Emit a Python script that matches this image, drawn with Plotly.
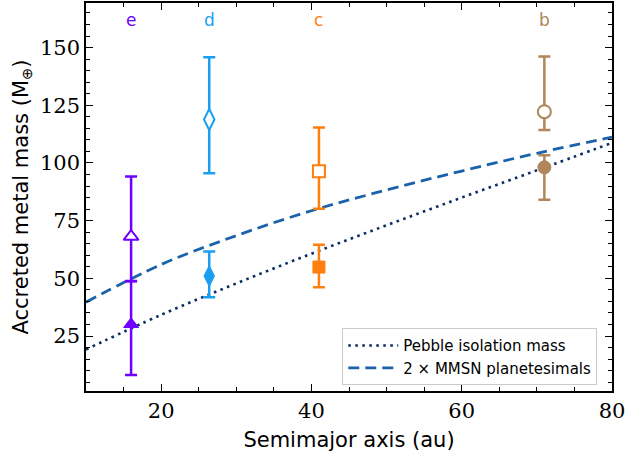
import plotly.graph_objects as go

# Planets
planet_labels = ["e", "d", "c", "b"]
planet_a = [16.0, 26.4, 41.0, 71.0]
planet_colors = ["#6f00ff", "#1a9ff0", "#ff7f0e", "#b0865a"]
planet_symbols = ["triangle-up", "diamond-tall", "square", "circle"]
marker_sizes = [13, 15, 12, 13]

# filled markers (lower estimates)
filled_mass = [30.1, 51.0, 54.9, 98.1]
filled_err_plus = [18.8, 10.6, 9.7, 5.2]
filled_err_minus = [22.0, 9.2, 8.7, 14.0]

# open markers (upper estimates)
open_mass = [68.1, 118.8, 96.4, 122.2]
open_err_plus = [26.0, 27.0, 19.0, 23.9]
open_err_minus = [19.3, 23.3, 16.2, 7.9]

label_y = 162.0

# Model curves
curve_a = [10, 20, 30, 40, 50, 60, 70, 80]
pebble_iso = [19.2, 34.2, 47.8, 60.7, 73.0, 85.0, 96.8, 108.7]
mmsn2 = [39.7, 56.0, 68.5, 79.3, 88.3, 96.5, 104.2, 111.2]

fig = go.Figure()

fig.add_trace(go.Scatter(
    x=curve_a, y=pebble_iso, mode="lines", line_shape="spline",
    line=dict(color="#0c2d66", width=2.6, dash="2.6px,4.4px"),
    name="Pebble isolation mass"))
fig.add_trace(go.Scatter(
    x=curve_a, y=mmsn2, mode="lines", line_shape="spline",
    line=dict(color="#1a63ab", width=2.8, dash="11px,6px"),
    name="2 × MMSN planetesimals"))

for i in range(len(planet_labels)):
    col = planet_colors[i]
    sym = planet_symbols[i]
    msize = marker_sizes[i]
    fig.add_trace(go.Scatter(
        x=[planet_a[i]], y=[open_mass[i]], mode="markers", showlegend=False,
        marker=dict(symbol=sym, size=msize, color="white",
                    line=dict(color=col, width=2)),
        error_y=dict(type="data", symmetric=False,
                     array=[open_err_plus[i]], arrayminus=[open_err_minus[i]],
                     color=col, thickness=2.5, width=6)))
    fig.add_trace(go.Scatter(
        x=[planet_a[i]], y=[filled_mass[i]], mode="markers", showlegend=False,
        marker=dict(symbol=sym, size=msize, color=col,
                    line=dict(color=col, width=1)),
        error_y=dict(type="data", symmetric=False,
                     array=[filled_err_plus[i]], arrayminus=[filled_err_minus[i]],
                     color=col, thickness=2.5, width=6)))
    fig.add_annotation(x=planet_a[i], y=label_y, text=planet_labels[i],
                       showarrow=False, xref="x", yref="y",
                       font=dict(family="DejaVu Sans", size=17, color=col))

axis_common = dict(
    showgrid=False, zeroline=False, showline=True, linecolor="black",
    linewidth=1.5, mirror="allticks", ticks="inside", ticklen=7,
    tickwidth=1.3, tickcolor="black", automargin=False,
    tickfont=dict(family="DejaVu Serif", size=21, color="black"),
)

fig.update_xaxes(
    range=[10, 80], tickvals=[20, 40, 60, 80], **axis_common,
    minor=dict(dtick=5, tick0=0, ticks="inside", ticklen=4, tickwidth=1.1,
               tickcolor="black"),
    title=dict(text="Semimajor axis (au)", standoff=10,
               font=dict(family="DejaVu Sans", size=21, color="black")))
fig.update_yaxes(
    range=[1.2, 169.3], tickvals=[25, 50, 75, 100, 125, 150], **axis_common,
    minor=dict(dtick=5, tick0=0, ticks="inside", ticklen=4, tickwidth=1.1,
               tickcolor="black"),
    title=dict(text="Accreted metal mass (M<sub>⊕</sub>)", standoff=6,
               font=dict(family="DejaVu Sans", size=21, color="black")))

fig.update_layout(
    width=626, height=457,
    margin=dict(l=86, r=14, t=3, b=66),
    plot_bgcolor="white", paper_bgcolor="white",
    legend=dict(x=0.972, y=0.015, xanchor="right", yanchor="bottom",
                bgcolor="white", bordercolor="#cccccc", borderwidth=1,
                font=dict(family="DejaVu Sans", size=15, color="black"),
                itemwidth=50, tracegroupgap=2),
)

fig.write_html("out.html", config={"displayModeBar": False},
               post_script="document.body.style.margin='0';document.body.style.padding='0';")
